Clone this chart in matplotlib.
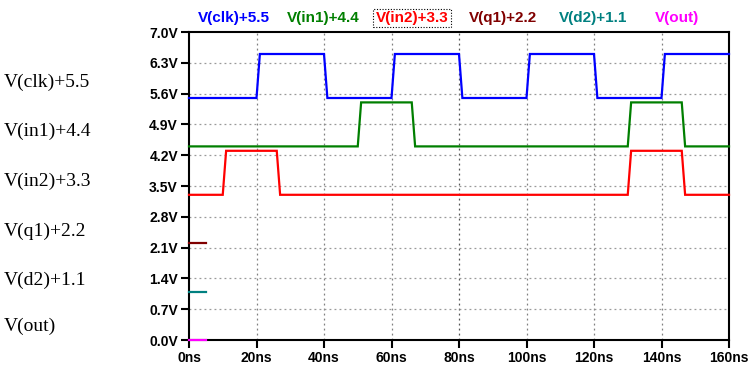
import matplotlib
matplotlib.use("Agg")
import matplotlib.pyplot as plt
import numpy as np

# ---- data (time in ns, raw signal level in V) ----
names = ["V(clk)", "V(in1)", "V(in2)", "V(q1)", "V(d2)", "V(out)"]
offsets = [5.5, 4.4, 3.3, 2.2, 1.1, 0.0]
colors = ["#0000ff", "#007f00", "#ff0000", "#800000", "#008080", "#ff00ff"]

clk_t = [0, 20, 21, 40, 41, 60, 61, 80, 81, 100, 101, 120, 121, 140, 141, 160]
clk_v = [0, 0, 1, 1, 0, 0, 1, 1, 0, 0, 1, 1, 0, 0, 1, 1]
in1_t = [0, 50, 51, 66, 67, 130, 131, 146, 147, 160]
in1_v = [0, 0, 1, 1, 0, 0, 1, 1, 0, 0]
in2_t = [0, 10, 11, 26, 27, 130, 131, 146, 147, 160]
in2_v = [0, 0, 1, 1, 0, 0, 1, 1, 0, 0]
q1_t = [0, 5]
q1_v = [0, 0]
d2_t = [0, 5]
d2_v = [0, 0]
out_t = [0, 5]
out_v = [0, 0]

yticks = [0.0, 0.7, 1.4, 2.1, 2.8, 3.5, 4.2, 4.9, 5.6, 6.3, 7.0]
xticks = [0, 20, 40, 60, 80, 100, 120, 140, 160]

series_t = [clk_t, in1_t, in2_t, q1_t, d2_t, out_t]
series_v = [clk_v, in1_v, in2_v, q1_v, d2_v, out_v]

fig = plt.figure(figsize=(7.5, 3.76), dpi=100)
ax = fig.add_axes([189 / 750, 1 - 340 / 376, (729 - 189) / 750, (340 - 32) / 376])

for t, v, off, c in zip(series_t, series_v, offsets, colors):
    ax.plot(t, np.array(v) + off, color=c, lw=1.6, solid_joinstyle="miter",
            zorder=5, clip_on=False)

ax.set_xlim(0, 160)
ax.set_ylim(0, 7.0)
ax.set_xticks(xticks)
ax.set_xticklabels([f"{x}ns" for x in xticks])
ax.set_yticks(yticks)
ax.set_yticklabels([f"{y:.1f}V" for y in yticks])
for lab in ax.get_xticklabels() + ax.get_yticklabels():
    lab.set_fontweight("bold")
    lab.set_fontfamily("Liberation Sans")
    lab.set_fontsize(10)
ax.tick_params(direction="out", length=6, width=1.5, colors="black", pad=2)

for x in xticks[1:-1]:
    ax.axvline(x, color="#808080" if x != 80 else "#555555", lw=0.9, ls=(0, (1.5, 2.5)), zorder=1)
for y in yticks[1:-1]:
    ax.axhline(y, color="#999999", lw=0.9, ls=(0, (1.5, 2.5)), zorder=1)

for s in ax.spines.values():
    s.set_linewidth(1.5)
    s.set_zorder(4)

# top legend labels
cx = [234, 323, 412, 503, 593, 677]
for i, (n, off, c) in enumerate(zip(names, offsets, colors)):
    label = n if off == 0 else f"{n}+{off}"
    kw = {}
    if i == 2:
        kw["bbox"] = dict(boxstyle="square,pad=0.15", fc="none", ec="black", ls=(0, (1, 1.5)), lw=0.8)
    fig.text(cx[i] / 750, 1 - 18 / 376, label, color=c, ha="center", va="center",
             fontsize=11, fontweight="bold", family="Liberation Sans", **kw)

# left labels
ly = [82, 131, 181, 231, 280, 326]
for n, off, y in zip(names, offsets, ly):
    label = n if off == 0 else f"{n}+{off}"
    fig.text(4 / 750, 1 - y / 376, label, color="black", ha="left", va="center",
             fontsize=14, family="Liberation Serif")

fig.savefig("out.png", dpi=100)
